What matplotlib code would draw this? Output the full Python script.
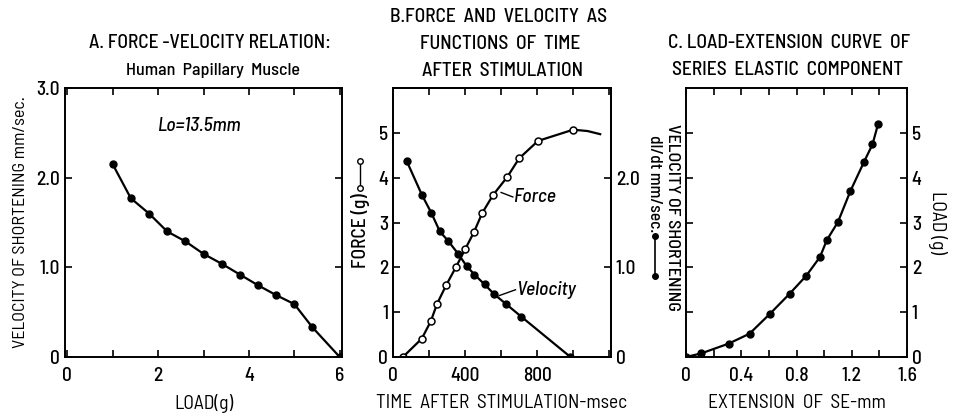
import matplotlib
matplotlib.use("Agg")
import matplotlib.pyplot as plt

plt.rcParams['font.family'] = ['Barlow Semi Condensed', 'DejaVu Sans']
plt.rcParams['font.weight'] = 'medium'

# A: force-velocity relation
load_a = [1.0, 1.4, 1.8, 2.2, 2.6, 3.0, 3.4, 3.8, 4.2, 4.6, 5.0, 5.4, 6.0]
vel_a = [2.15, 1.77, 1.60, 1.40, 1.29, 1.15, 1.04, 0.92, 0.80, 0.69, 0.59, 0.33, 0.0]

# B: force and velocity vs time after stimulation
t_force = [55, 160, 210, 245, 295, 350, 400, 450, 495, 555, 635, 700, 805, 1000]
force_b = [0.0, 0.41, 0.80, 1.19, 1.60, 2.01, 2.40, 2.79, 3.21, 3.61, 4.02, 4.43, 4.82, 5.07]
t_tail = [1000, 1080, 1150]  # force curve goes on past the last point
force_tail = [5.07, 5.04, 4.97]
t_vel = [75, 160, 212, 260, 308, 362, 410, 452, 508, 562, 628, 712, 985]
vel_b = [2.19, 1.81, 1.61, 1.40, 1.29, 1.15, 1.01, 0.92, 0.81, 0.70, 0.59, 0.45, 0.0]

# C: load-extension curve of series elastic component
ext_c = [0.0, 0.11, 0.31, 0.46, 0.61, 0.75, 0.87, 0.97, 1.02, 1.10, 1.19, 1.29, 1.35, 1.39]
load_c = [0.0, 0.08, 0.30, 0.52, 0.97, 1.41, 1.81, 2.23, 2.61, 3.01, 3.70, 4.36, 4.74, 5.19]

W, H = 957, 420
FS = 14


def fx(x):
    return x / W


def fy(y):
    return 1 - y / H


def style(ax):
    for s in ax.spines.values():
        s.set_linewidth(1.4)
    ax.tick_params(direction='in', length=5, width=1.2, labelsize=FS, top=True, right=True)
    ax.tick_params(axis='x', pad=7)


fig = plt.figure(figsize=(9.57, 4.2), dpi=100)

# ---- panel A
ax_a = fig.add_axes([fx(65), fy(357), fx(342 - 65), (357 - 88) / H])
style(ax_a)
ax_a.plot(load_a, vel_a, '-', color='black', lw=1.6)
ax_a.plot(load_a, vel_a, 'o', color='black', ms=5)
ax_a.set_xlim(-0.05, 6.05)
ax_a.set_ylim(0, 3.0)
ax_a.set_xticks(range(7))
ax_a.set_xticklabels(['0', '', '2', '', '4', '', '6'])
ax_a.set_yticks([0, 1, 2, 3])
ax_a.set_yticklabels(['0', '1.0', '2.0', '3.0'])
ax_a.text(1.98, 2.58, 'Lo=13.5mm', style='italic', fontsize=FS, va='center')
ax_a.set_xlabel('LOAD(g)', fontsize=FS, labelpad=7)
ax_a.set_ylabel('VELOCITY OF SHORTENING mm/sec.', fontsize=13, labelpad=6)
fig.text(fx(210), fy(43), 'A. FORCE -VELOCITY RELATION:', fontsize=FS, ha='center', va='center')
fig.text(fx(213), fy(70), 'Human  Papillary  Muscle', fontsize=13, ha='center', va='center')

# ---- panel B
ax_b = fig.add_axes([fx(393), fy(357), fx(611 - 393), (357 - 88) / H])
style(ax_b)
ax_b.tick_params(right=False)
ax_b.plot(t_force, force_b, '-', color='black', lw=1.6)
ax_b.plot(t_tail, force_tail, '-', color='black', lw=1.6)
ax_b.plot(t_force, force_b, 'o', mfc='white', mec='black', mew=1.1, ms=5)
ax_b.set_xlim(0, 1210)
ax_b.set_ylim(0, 6)
ax_b.set_xticks(range(0, 1201, 200))
ax_b.set_xticklabels(['0', '', '400', '', '800', '', ''])
ax_b.set_yticks(range(6))
ax_b.set_xlabel('TIME  AFTER  STIMULATION-msec', fontsize=FS, labelpad=7)

ax_v = ax_b.twinx()
style(ax_v)
ax_v.tick_params(left=False, top=False)
ax_v.plot(t_vel, vel_b, '-', color='black', lw=1.6)
ax_v.plot(t_vel, vel_b, 'o', color='black', ms=5)
ax_v.set_ylim(0, 3)
ax_v.set_yticks([0, 1, 2])
ax_v.set_yticklabels(['0', '1.0', '2.0'])

# curve labels with leaders
ax_b.plot([600, 665], [3.67, 3.57], color='black', lw=1)
ax_b.text(668, 3.57, 'Force', style='italic', fontsize=FS, va='center')
ax_b.plot([590, 680], [1.37, 1.50], color='black', lw=1)
ax_b.text(683, 1.50, 'Velocity', style='italic', fontsize=FS, va='center')

# left label with its open-circle key
ax_b.text(-0.15, 0.47, 'FORCE (g)', rotation=90, fontsize=FS, ha='center', va='center',
          transform=ax_b.transAxes)
ax_b.plot([-0.15, -0.15], [0.63, 0.73], '-', color='black', lw=1, transform=ax_b.transAxes,
          clip_on=False)
ax_b.plot([-0.15, -0.15], [0.63, 0.73], 'o', mfc='white', mec='black', ms=4, mew=1,
          transform=ax_b.transAxes, clip_on=False)

fig.text(fx(499), fy(17), 'B.FORCE  AND  VELOCITY  AS', fontsize=FS, ha='center', va='center')
fig.text(fx(500), fy(44), 'FUNCTIONS  OF  TIME', fontsize=FS, ha='center', va='center')
fig.text(fx(503), fy(71), 'AFTER  STIMULATION', fontsize=FS, ha='center', va='center')

# right label of B, sitting left of panel C
fig.text(fx(672), fy(124), 'VELOCITY OF SHORTENING', rotation=-90, fontsize=13,
         ha='center', va='top')
fig.text(fx(655), fy(135), 'dl/dt mm/sec.', rotation=-90, fontsize=12.5, ha='center', va='top')
fig.lines.append(plt.Line2D([fx(655), fx(655)], [fy(236), fy(276)], color='black', lw=1.2,
                            marker='o', ms=4, transform=fig.transFigure))

# ---- panel C
ax_c = fig.add_axes([fx(686), fy(357), fx(907 - 686), (357 - 88) / H])
style(ax_c)
ax_c.tick_params(axis='y', labelleft=False, labelright=True)
ax_c.plot(ext_c, load_c, '-', color='black', lw=1.6)
ax_c.plot(ext_c, load_c, 'o', color='black', ms=5)
ax_c.set_xlim(0, 1.6)
ax_c.set_ylim(0, 6)
ax_c.set_xticks([0, 0.2, 0.4, 0.6, 0.8, 1.0, 1.2, 1.4, 1.6])
ax_c.set_xticklabels(['0', '', '0.4', '', '0.8', '', '1.2', '', '1.6'])
ax_c.set_yticks(range(6))
ax_c.yaxis.set_label_position('right')
ax_c.set_ylabel('LOAD (g)', rotation=-90, fontsize=FS, labelpad=18)
ax_c.set_xlabel('EXTENSION  OF  SE-mm', fontsize=FS, labelpad=7)
fig.text(fx(789), fy(43), 'C. LOAD-EXTENSION  CURVE  OF', fontsize=FS, ha='center', va='center')
fig.text(fx(788), fy(70), 'SERIES  ELASTIC  COMPONENT', fontsize=FS, ha='center', va='center')

fig.savefig('out.png', dpi=100)
